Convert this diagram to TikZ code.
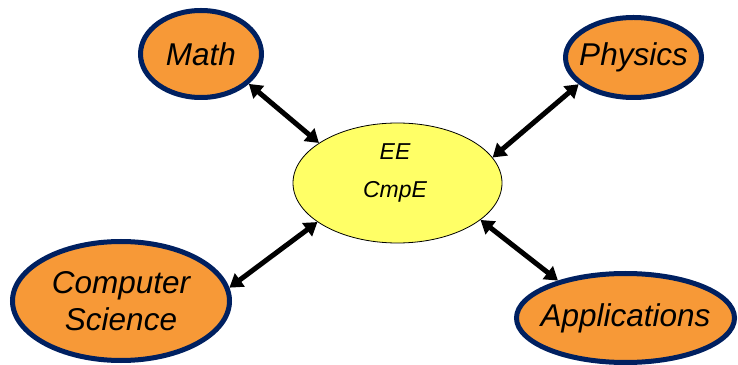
\documentclass[tikz,border=0pt]{standalone}
\usepackage{fontspec}
\setmainfont{Liberation Sans}
\usetikzlibrary{arrows.meta,shapes.geometric}
\definecolor{topicfill}{RGB}{247,153,55}
\definecolor{topicline}{RGB}{0,32,96}
\definecolor{corefill}{RGB}{255,255,102}
\begin{document}
\begin{tikzpicture}[x=1pt, y=1pt,
  topic/.style={shape=ellipse, draw=topicline, fill=topicfill, line width=5pt, inner xsep=-25pt, inner ysep=0pt, align=center, font=\fontsize{31.5}{37.5}\selectfont\itshape},
  core/.style={shape=ellipse, draw=black, fill=corefill, line width=0.8pt},
  link/.style={{Triangle[length=13pt,width=16pt,line join=miter]}-{Triangle[length=13pt,width=16pt,line join=miter]}, line width=5pt, draw=black}]
\useasboundingbox (0,0) rectangle (738,364);
\node[core, minimum width=209pt, minimum height=120pt] (EE) at (397.5,181) {};
\node[align=center, inner sep=0pt, font=\fontsize{23}{38}\selectfont\itshape] (EEtext) at (395,191.5) {EE\\CmpE};
\node[topic, minimum width=121pt, minimum height=87pt] (Math) at (201,310) {Math};
\node[topic, minimum width=136pt, minimum height=80pt] (Phys) at (633.5,306.5) {Physics};
\node[topic, minimum width=217pt, minimum height=119pt] (CS) at (121,63) {Computer\\Science};
\node[topic, minimum width=218pt, minimum height=89pt] (App) at (625.5,46) {Applications};
\draw [link] (Math.-32) -- (EE.153);
\draw [link] (Phys.206) -- (EE.15.5);
\draw [link] (CS.7) -- (EE.206);
\draw [link] (App.151) -- (EE.-24);
\end{tikzpicture}
\end{document}
